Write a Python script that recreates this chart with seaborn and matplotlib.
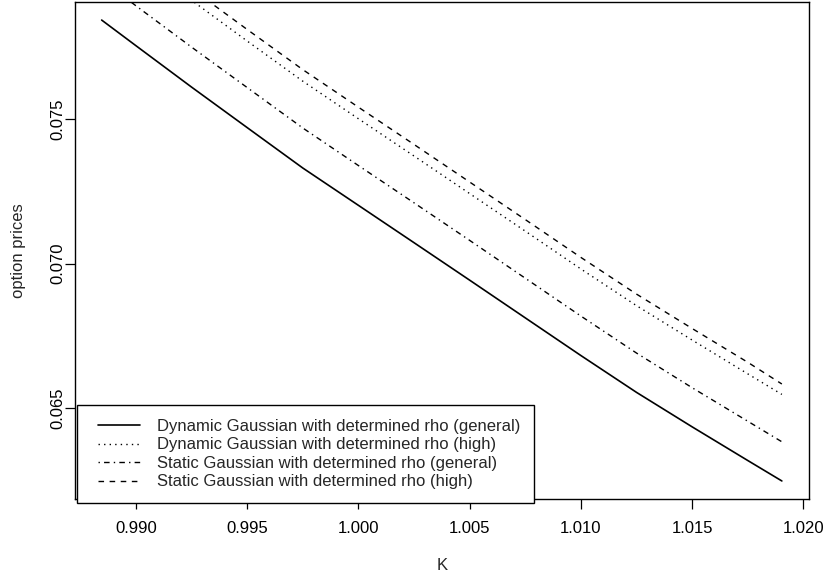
import matplotlib
matplotlib.use("Agg")
import matplotlib.pyplot as plt
from matplotlib.legend_handler import HandlerLine2D
from matplotlib.lines import Line2D
import seaborn as sns
import pandas as pd

# ---- data ----
K = [0.98846, 0.990, 0.9925, 0.995, 0.9975, 1.000, 1.0025, 1.005,
     1.0075, 1.010, 1.0125, 1.015, 1.0175, 1.01903]
dyn_general = [0.078426, 0.077539, 0.076106, 0.074704, 0.073305, 0.072013,
               0.070720, 0.069423, 0.068118, 0.066814, 0.065539, 0.064346,
               0.063181, 0.062474]
dyn_high = [0.08143, 0.08054, 0.07911, 0.07770, 0.07631, 0.07501, 0.07372,
            0.07242, 0.07112, 0.06981, 0.06854, 0.06735, 0.06618, 0.06547]
stat_general = [0.07982, 0.07892, 0.07749, 0.07609, 0.07469, 0.07339,
                0.07210, 0.07080, 0.06949, 0.06818, 0.06690, 0.06570,
                0.06454, 0.06383]
stat_high = [0.08183, 0.08094, 0.07951, 0.07810, 0.07671, 0.07541, 0.07412,
             0.07282, 0.07152, 0.07021, 0.06894, 0.06775, 0.06658, 0.06583]

labels = ["Dynamic Gaussian with determined rho (general)",
          "Dynamic Gaussian with determined rho (high)",
          "Static Gaussian with determined rho (general)",
          "Static Gaussian with determined rho (high)"]
xticks = [0.990, 0.995, 1.000, 1.005, 1.010, 1.015, 1.020]
yticks = [0.065, 0.070, 0.075]
xlim = (0.98724, 1.02025)
ylim = (0.061836, 0.079068)

# ---- style ----
sns.set_style("ticks")
plt.rcParams["font.family"] = ["Liberation Sans", "DejaVu Sans"]
FS = 12.0

W, H = 829, 582
fig = plt.figure(figsize=(W / 100, H / 100), dpi=100)
L, R, T, B = 74.5, 809.0, 1.5, 499.4
ax = fig.add_axes([L / W, 1 - B / H, (R - L) / W, (B - T) / H])

series = [dyn_general, dyn_high, stat_general, stat_high]
styles = ["-", (0, (1, 3)), (0, (1, 3, 4, 3)), (0, (4, 4))]
lws = [1.2, 1.0, 1.0, 1.0]
for vals, lab, ls, lw in zip(series, labels, styles, lws):
    df = pd.DataFrame({"K": K, "price": vals})
    sns.lineplot(data=df, x="K", y="price", ax=ax, color="black",
                 linestyle=ls, linewidth=lw, label=lab, legend=False)

ax.set_xlim(*xlim)
ax.set_ylim(*ylim)
ax.set_xticks(xticks)
ax.set_yticks(yticks)
ax.set_xticklabels([f"{v:.3f}" for v in xticks], fontsize=FS)
ax.set_yticklabels([f"{v:.3f}" for v in yticks], fontsize=FS,
                   rotation=90, va="center")
ax.tick_params(axis="x", direction="out", length=7.2, width=0.9,
               pad=8.0, colors="black")
ax.tick_params(axis="y", direction="out", length=7.2, width=0.9,
               pad=-0.3, colors="black")
for s in ax.spines.values():
    s.set_visible(True)
    s.set_color("black")
    s.set_linewidth(1.0)

ax.set_xlabel("K", fontsize=FS)
ax.set_ylabel("option prices", fontsize=FS)
ax.xaxis.set_label_coords(0.5, (B - 558) / (B - T))
ax.yaxis.set_label_coords((26 - L) / (R - L), 0.5)

handles = [l for l in ax.get_lines() if l.get_label() in labels]
leg = ax.legend(handles=handles, labels=labels, loc="lower left",
                bbox_to_anchor=(76.7 / W, 1 - 503 / H),
                bbox_transform=fig.transFigure, borderaxespad=0,
                fontsize=FS, frameon=True, fancybox=False, framealpha=1,
                edgecolor="black", facecolor="white", borderpad=0.82,
                labelspacing=0.21, handlelength=3.43, handletextpad=0.56,
                handler_map={Line2D: HandlerLine2D(marker_pad=0.455,
                                                   numpoints=2)})
leg.get_frame().set_linewidth(1.0)

fig.savefig("out.png", dpi=100)
